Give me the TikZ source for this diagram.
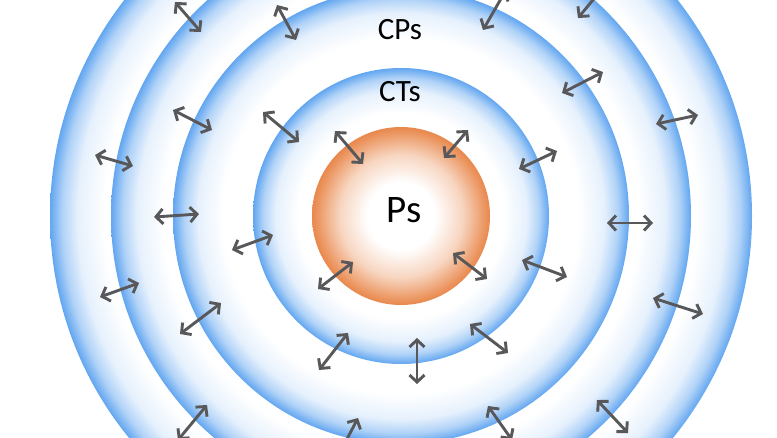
\documentclass[tikz,border=0pt]{standalone}
\usepackage{fontspec}
\setmainfont{Carlito}
\usetikzlibrary{arrows.meta}
\definecolor{ringblue}{RGB}{98,166,240}
\colorlet{rbA}{ringblue!16!white}
\colorlet{rbB}{ringblue!50!white}
\colorlet{rbC}{ringblue!82!white}
\definecolor{orangeP}{RGB}{233,136,76}
\colorlet{orA}{orangeP!35!white}
\colorlet{orB}{orangeP!72!white}
\colorlet{orC}{orangeP!90!white}
\definecolor{arrowgray}{RGB}{88,88,90}
% stops: white at R-w, rbA at R-0.5w, rbB at R-0.22w, rbC at R-0.08w, full at R
\pgfdeclareradialshading{ringV}{\pgfpoint{0bp}{0bp}}{color(0bp)=(white); color(21.08bp)=(white); color(23.04bp)=(rbA); color(24.14bp)=(rbB); color(24.69bp)=(rbC); color(25bp)=(ringblue); color(50bp)=(ringblue)}
\pgfdeclareradialshading{ringIV}{\pgfpoint{0bp}{0bp}}{color(0bp)=(white); color(20.52bp)=(white); color(22.76bp)=(rbA); color(24.01bp)=(rbB); color(24.64bp)=(rbC); color(25bp)=(ringblue); color(50bp)=(ringblue)}
\pgfdeclareradialshading{ringIII}{\pgfpoint{0bp}{0bp}}{color(0bp)=(white); color(19.52bp)=(white); color(22.26bp)=(rbA); color(23.79bp)=(rbB); color(24.56bp)=(rbC); color(25bp)=(ringblue); color(50bp)=(ringblue)}
\pgfdeclareradialshading{ringII}{\pgfpoint{0bp}{0bp}}{color(0bp)=(white); color(17.40bp)=(white); color(21.20bp)=(rbA); color(23.33bp)=(rbB); color(24.39bp)=(rbC); color(25bp)=(ringblue); color(50bp)=(ringblue)}
\pgfdeclareradialshading{coreP}{\pgfpoint{0bp}{0bp}}{color(0bp)=(white); color(9.55bp)=(white); color(17.28bp)=(orA); color(21.60bp)=(orB); color(23.70bp)=(orC); color(25bp)=(orangeP); color(50bp)=(orangeP)}
\tikzset{
  dbl/.style={{Straight Barb[length=7pt,width=15pt]}-{Straight Barb[length=7pt,width=15pt]}, line width=2.9pt, draw=arrowgray, line cap=round, line join=round},
  lbl/.style={inner sep=0pt, anchor=base, text=black}
}
\begin{document}
\begin{tikzpicture}[x=1pt,y=-1pt]
\useasboundingbox (0,0) rectangle (777,437);
\fill[white] (0,0) rectangle (777,437);
\clip (0,0) rectangle (777,437);
\coordinate (c) at (401,216);
\shade[shading=ringV] (c) circle[radius=351pt];
\shade[shading=ringIV] (c) circle[radius=290pt];
\shade[shading=ringIII] (c) circle[radius=228pt];
\shade[shading=ringII] (c) circle[radius=148pt];
\shade[shading=coreP] (c) circle[radius=89pt];
\node[lbl, font=\fontsize{31}{37}\selectfont] (cps) at (400,39) {CPs};
\node[lbl, font=\fontsize{31}{37}\selectfont] (cts) at (400,101) {CTs};
\node[lbl, font=\fontsize{39}{45}\selectfont] (ps) at (404,222) {Ps};
\foreach \ax/\ay/\bx/\by [count=\i] in {
  175/2/201/32, 277/5/296/40, 506/-10/483/30, 607/-17/578/18,
  173/110/212/130, 263/112/299/142, 562/93/603/72, 656/124/698/115,
  95/155/133/166, 335/131/363/164, 444/158/468/130, 519/169/557/151,
  154/217/199/214, 232/250/273/235, 607/223/653/223, 318/289/353/262,
  453/253/487/279, 522/260/567/277, 100/297/139/283, 653/298/703/314,
  180/334/221/303, 319/370/348/333, 470/324/508/353, 417/338/417/384,
  597/400/628/433, 178/440/207/405, 337/458/358/418, 488/406/512/440}
{
  \coordinate (a\i) at (\ax,\ay);
  \coordinate (b\i) at (\bx,\by);
  \draw[dbl] (a\i) -- (b\i);
}
\end{tikzpicture}
\end{document}
